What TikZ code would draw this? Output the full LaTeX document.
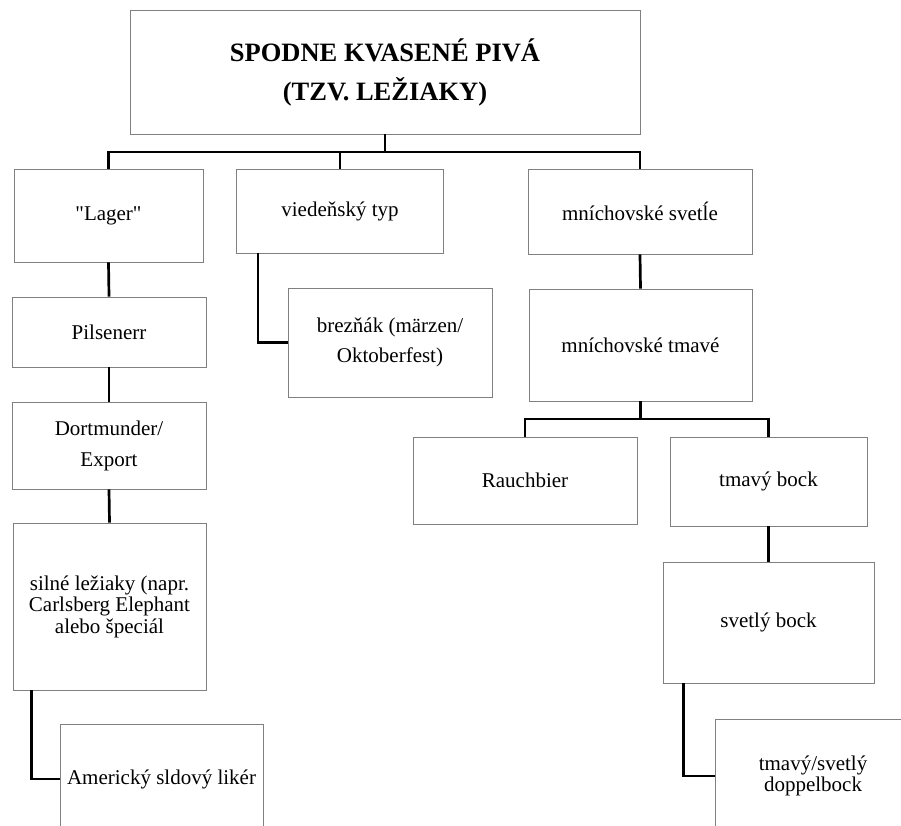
\documentclass[tikz,border=0pt]{standalone}
\usepackage{fontspec}
\setmainfont{Liberation Serif}
\tikzset{
  box/.style={draw=black!50, line width=0.9pt, align=center, inner sep=2pt,
    font=\fontsize{21}{31}\selectfont},
  tight/.style={font=\fontsize{21}{21.5}\selectfont},
  link/.style={line width=2.7pt}
}
\begin{document}
\begin{tikzpicture}[x=1pt,y=-1pt]
    \useasboundingbox (0,0) rectangle (901,825);
    \clip (0,0) rectangle (901,825);
    \node[box, minimum width=510, minimum height=124, font=\fontsize{26.5}{39}\selectfont\bfseries] (title) at (385,72) {SPODNE KVASENÉ PIVÁ\\(TZV. LEŽIAKY)};
    \node[box, minimum width=189, minimum height=93] (lager) at (108.5,215.5) {\textquotedbl Lager\textquotedbl};
    \node[box, minimum width=207, minimum height=84] (vieden) at (340,211) {viedeňský typ};
    \node[box, minimum width=224, minimum height=85] (mnsvet) at (640,211.5) {mníchovské svetĺe};
    \node[box, minimum width=194, minimum height=70] (pils) at (109,332) {Pilsenerr};
    \node[box, minimum width=194, minimum height=87] (dort) at (109,445.5) {Dortmunder/\\Export};
    \node[box, tight, minimum width=193, minimum height=167] (silne) at (109.5,606.5) {silné ležiaky (napr.\\Carlsberg Elephant\\alebo špeciál};
    \node[box, minimum width=203, minimum height=110] (americ) at (161.5,779) {Americký sldový likér};
    \node[box, font=\fontsize{21}{30}\selectfont, minimum width=204, minimum height=109] (brez) at (390,342.5) {brezňák (märzen/\\Oktoberfest)};
    \node[box, minimum width=223, minimum height=112] (mntmav) at (640.5,345) {mníchovské tmavé};
    \node[box, minimum width=224, minimum height=87] (rauch) at (525,480.5) {Rauchbier};
    \node[box, minimum width=197, minimum height=89] (tmbock) at (768.5,481.5) {tmavý bock};
    \node[box, minimum width=211, minimum height=121] (svbock) at (768.5,622.5) {svetlý bock};
    \node[box, tight, minimum width=196, minimum height=114] (dopp) at (813,776) {tmavý/svetlý\\doppelbock};
    \coordinate (bus) at (0,152);
    \coordinate (bus2) at (0,419);
    \draw[link] (title.south) -- (title.south |- bus);
    \draw[link] (lager.north) |- (bus -| mnsvet.north) -- (mnsvet.north);
    \draw[link] (vieden.north) -- (vieden.north |- bus);
    \draw[link] (lager.south) -- (pils.north);
    \draw[link] (pils.south) -- (dort.north);
    \draw[link] (dort.south) -- (silne.north);
    \draw[link] ([xshift=19pt]silne.south west) |- (americ.west);
    \draw[link] ([xshift=22pt]vieden.south west) |- (brez.west);
    \draw[link] (mnsvet.south) -- (mntmav.north);
    \draw[link] (mntmav.south) -- (mntmav.south |- bus2);
    \draw[link] (rauch.north) |- (bus2 -| tmbock.north) -- (tmbock.north);
    \draw[link] (tmbock.south) -- (svbock.north);
    \draw[link] ([xshift=21pt]svbock.south west) |- (dopp.west);
\end{tikzpicture}
\end{document}
